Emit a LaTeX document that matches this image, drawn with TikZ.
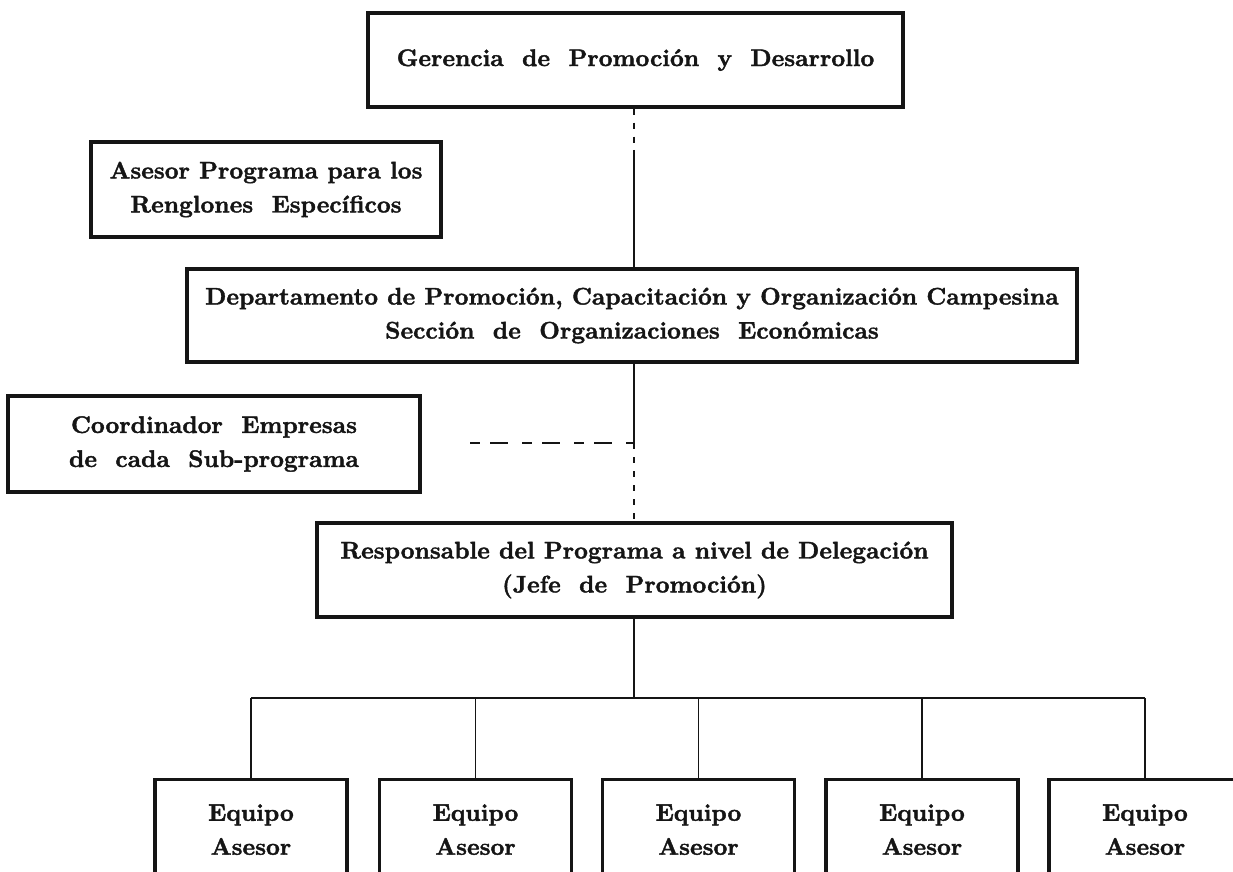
\documentclass[tikz,border=0pt]{standalone}
\usepackage{fontspec}
\usepackage{tikz}
\usetikzlibrary{positioning}
\newfontfamily\negra{lmroman10-bold.otf}[FakeBold=1.6]
\definecolor{scan}{HTML}{151515}
\tikzset{
  caja/.style={draw=scan,line width=1.6pt,align=center,inner sep=0pt,
    font=\negra\fontsize{12}{17}\selectfont,text=scan},
  enlace/.style={draw=scan,line width=0.8pt},
  punteado/.style={enlace,line width=0.6pt,dash pattern=on 3pt off 4pt},
}
\begin{document}
\begin{tikzpicture}[x=0.5pt,y=-0.5pt]
  \useasboundingbox (0,0) rectangle (1233,872);
  \clip (0,0) rectangle (1233,872);
  \node[caja,minimum width=267.5pt,minimum height=47pt] (ger) at (635.5,60) {Gerencia \ de \ Promoción \ y \ Desarrollo};
  \node[caja,minimum width=175pt,minimum height=47.5pt] (ase) at (266,189.5) {Asesor Programa para los\\Renglones \ Específicos};
  \node[caja,minimum width=445pt,minimum height=46.5pt] (dep) at (632,315.5) {Departamento de Promoción, Capacitación y Organización Campesina\\Sección \ de \ Organizaciones \ Económicas};
  \node[caja,minimum width=206pt,minimum height=48pt] (coo) at (214,444) {Coordinador \ Empresas\\de \ cada \ Sub-programa};
  \node[caja,minimum width=317.5pt,minimum height=47pt] (res) at (634.5,570) {Responsable del Programa a nivel de Delegación\\(Jefe \ de \ Promoción)};
  \foreach \i/\cx in {1/251,2/475.5,3/698.5,4/922,5/1145}
    \node[caja,anchor=north,minimum width=96pt,minimum height=50pt] (eq\i) at (\cx,778) {Equipo\\Asesor};
  \coordinate (eje1) at (634,150);
  \coordinate (cruce) at (634,443);
  \coordinate (guion) at (470,443);
  \coordinate (barra) at (634,698);
  \draw[punteado] (eje1 |- ger.south) -- (eje1);
  \draw[enlace] (eje1) -- (eje1 |- dep.north);
  \draw[enlace] (cruce |- dep.south) -- (cruce);
  \draw[punteado] (cruce) -- (cruce |- res.north);
  \draw[enlace,dash pattern=on 5pt off 5pt on 9pt off 7pt] (guion) -- (cruce);
  \draw[enlace] (barra |- res.south) -- (barra);
  \draw[enlace] (eq1.north |- barra) -- (eq5.north |- barra);
  \foreach \i in {1,...,5}
    \draw[enlace] (eq\i.north |- barra) -- (eq\i.north);
\end{tikzpicture}
\end{document}
